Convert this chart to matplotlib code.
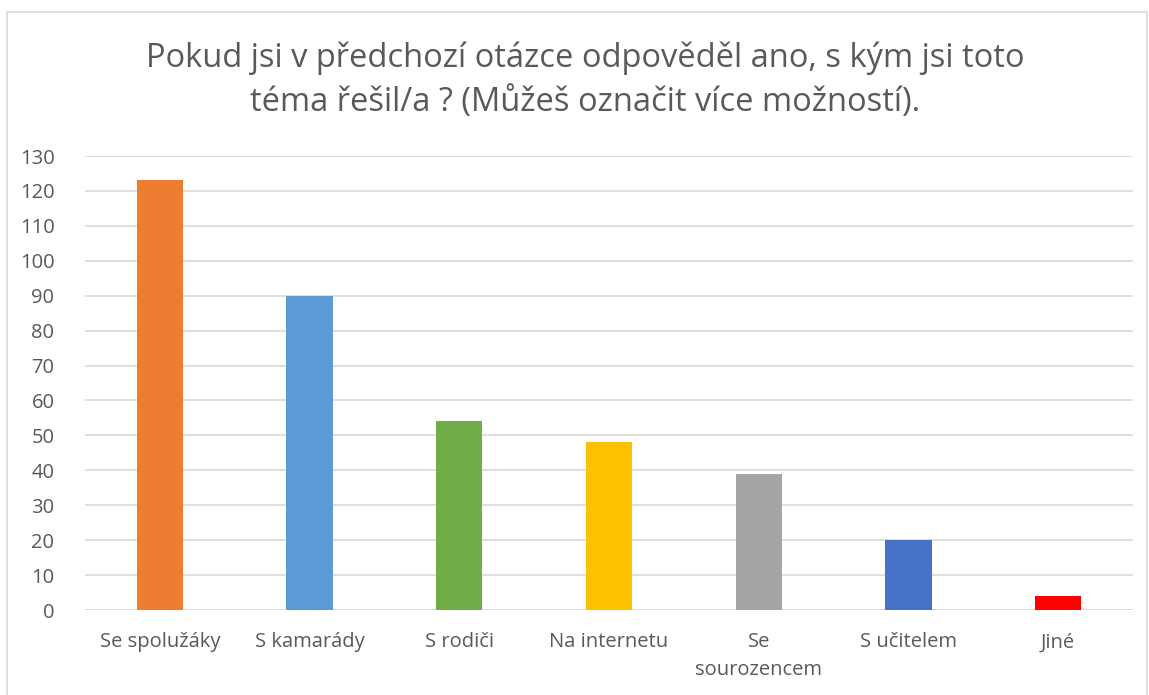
import matplotlib.pyplot as plt
from matplotlib.patches import Rectangle

plt.rcParams['font.family'] = ['Open Sans', 'DejaVu Sans']

# data
categories = ['Se spolužáky', 'S kamarády', 'S rodiči', 'Na internetu',
              'Se\nsourozencem', 'S učitelem', 'Jiné']
counts = [123, 90, 54, 48, 39, 20, 4]
colors = ['#ED7D31', '#5B9BD5', '#70AD47', '#FFC000', '#A5A5A5', '#4472C4', '#FF0000']
title = 'Pokud jsi v předchozí otázce odpověděl ano, s kým jsi toto\ntéma řešil/a ? (Můžeš označit více možností).'

fig = plt.figure(figsize=(11.49, 6.95), dpi=100)
ax = fig.add_axes([85 / 1149, 1 - 610 / 695, (1133 - 85) / 1149, (610 - 156) / 695])

x = range(len(categories))
ax.bar(x, counts, width=0.31, color=colors, zorder=3)

ax.set_ylim(0, 130)
ax.set_xlim(-0.5, len(categories) - 0.5)
ax.set_yticks(range(0, 131, 10))
ax.set_xticks(list(x))
ax.set_xticklabels(categories, linespacing=1.55)
ax.tick_params(axis='both', length=0, labelsize=14.5, colors='#595959')
ax.tick_params(axis='x', pad=16)
ax.tick_params(axis='y', pad=22)
ax.grid(axis='y', color='#D9D9D9', linewidth=1.2, zorder=0)
for s in ax.spines.values():
    s.set_visible(False)
ax.axhline(0, color='#D9D9D9', linewidth=1.2, zorder=2)

fig.text(585 / 1149, 1 - 80 / 695, title, ha='center', va='center',
         fontsize=23.5, color='#595959', linespacing=1.45)

# chart frame
fig.patches.append(Rectangle((7 / 1149, -0.01), 1140 / 1149, 1 - 12 / 695 + 0.01,
                             transform=fig.transFigure, fill=False,
                             edgecolor='#D9D9D9', linewidth=1.2))

fig.savefig('out.png', dpi=100)
